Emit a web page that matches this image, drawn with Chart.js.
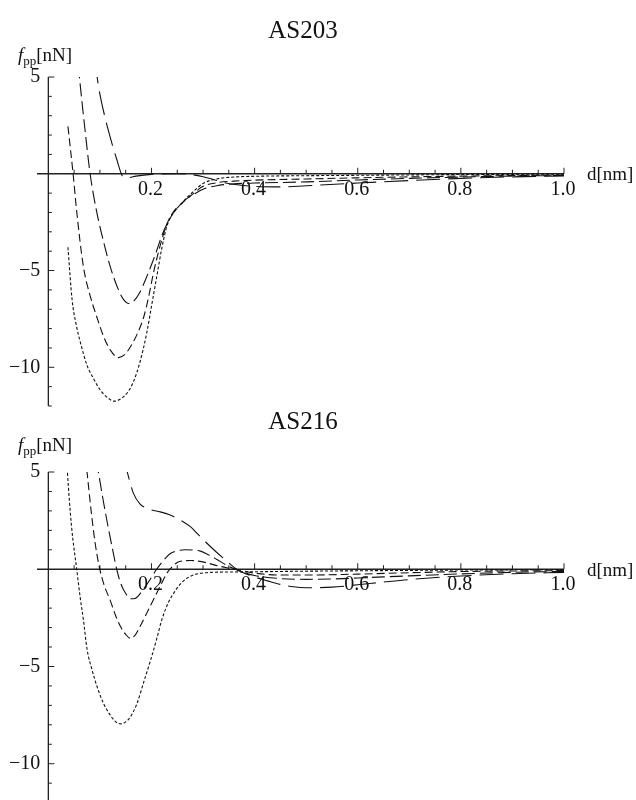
<!DOCTYPE html>
<html>
<head>
<meta charset="utf-8">
<script src="https://cdn.jsdelivr.net/npm/chart.js@4"></script>
<style>
  html, body { margin: 0; padding: 0; background: #fff; overflow: hidden; width: 636px; height: 800px; }
  #wrap { position: relative; width: 636px; height: 800px; }
  canvas { position: absolute; left: 0; }
  .lbl { position: absolute; font-family: "Liberation Serif", "Times New Roman", serif; color: #111; white-space: nowrap; }
  .title { left: 0; width: 606px; text-align: center; font-size: 25px; line-height: 25px; }
  .ylab { left: 18px; font-size: 19px; line-height: 19px; }
  .ylab sub { font-size: 13px; line-height: 0; vertical-align: -4px; }
  .xlab { left: 587px; font-size: 19px; line-height: 19px; }
</style>
</head>
<body>
<div id="wrap">
  <canvas id="c1" width="636" height="420" style="top:0"></canvas>
  <canvas id="c2" width="636" height="420" style="top:400px"></canvas>
  <div class="lbl title" style="top:16.6px">AS203</div>
  <div class="lbl ylab" style="top:44.6px"><i>f</i><sub>pp</sub>[nN]</div>
  <div class="lbl xlab" style="top:163.6px">d[nm]</div>
  <div class="lbl title" style="top:407.6px">AS216</div>
  <div class="lbl ylab" style="top:435.1px"><i>f</i><sub>pp</sub>[nN]</div>
  <div class="lbl xlab" style="top:560.1px">d[nm]</div>
</div>
<script>
// tick labels
const xTickValues = [0.2, 0.4, 0.6, 0.8, 1.0];
const xTickLabels = ["0.2", "0.4", "0.6", "0.8", "1.0"];
const yTickValues = [5, -5, -10];
const yTickLabels = ["5", "\u22125", "\u221210"];

// AS203 - d [nm] and f_pp [nN] per curve
const as203DotD = [0.038, 0.046, 0.054, 0.062, 0.075, 0.088, 0.1, 0.114, 0.128, 0.142, 0.155, 0.165, 0.178, 0.191, 0.201, 0.211, 0.22, 0.23, 0.243, 0.256, 0.268, 0.28, 0.3, 0.33, 0.36, 0.4, 0.5, 0.6, 0.7, 0.8, 0.9, 1.0];
const as203DotF = [-3.8, -6.5, -7.8, -8.7, -9.9, -10.6, -11.15, -11.55, -11.75, -11.6, -11.25, -10.75, -9.7, -8.2, -6.7, -5.2, -3.85, -2.7, -2.0, -1.6, -1.25, -0.95, -0.5, -0.25, -0.17, -0.13, -0.1, -0.08, -0.06, -0.04, -0.03, -0.02];

const as203ShortD = [0.038, 0.048, 0.055, 0.068, 0.081, 0.094, 0.107, 0.12, 0.136, 0.148, 0.159, 0.172, 0.185, 0.195, 0.204, 0.217, 0.23, 0.243, 0.256, 0.268, 0.28, 0.3, 0.33, 0.36, 0.4, 0.5, 0.6, 0.7, 0.8, 0.9, 1.0];
const as203ShortF = [2.45, 0, -1.95, -4.8, -6.3, -7.4, -8.4, -9.1, -9.5, -9.35, -8.95, -8.3, -7.4, -6.3, -5.1, -3.7, -2.6, -1.95, -1.6, -1.3, -1.05, -0.65, -0.45, -0.38, -0.33, -0.27, -0.21, -0.16, -0.12, -0.09, -0.07];

const as203MedD = [0.058, 0.061, 0.071, 0.081, 0.094, 0.107, 0.12, 0.136, 0.146, 0.156, 0.165, 0.177, 0.188, 0.2, 0.211, 0.22, 0.23, 0.243, 0.256, 0.268, 0.28, 0.3, 0.33, 0.36, 0.4, 0.5, 0.6, 0.7, 0.8, 0.9, 1.0];
const as203MedF = [5.6, 4.8, 2.3, 0, -2.0, -3.5, -4.8, -6.0, -6.5, -6.7, -6.6, -6.15, -5.5, -4.7, -3.9, -3.2, -2.6, -2.0, -1.6, -1.3, -1.1, -0.8, -0.6, -0.52, -0.48, -0.42, -0.32, -0.24, -0.17, -0.12, -0.09];

const as203LongD = [0.09, 0.098, 0.11, 0.123, 0.132, 0.146, 0.155, 0.17, 0.2, 0.25, 0.28, 0.3, 0.32, 0.34, 0.37, 0.4, 0.45, 0.5, 0.6, 0.7, 0.8, 0.9, 1.0];
const as203LongF = [5.9, 4.4, 2.9, 1.6, 0.8, -0.18, -0.2, -0.12, -0.03, 0, -0.05, -0.15, -0.3, -0.45, -0.58, -0.65, -0.68, -0.62, -0.48, -0.35, -0.24, -0.16, -0.11];

// AS216
const as216DotD = [0.034, 0.037, 0.045, 0.055, 0.062, 0.068, 0.075, 0.085, 0.094, 0.107, 0.12, 0.131, 0.141, 0.15, 0.159, 0.172, 0.185, 0.198, 0.211, 0.22, 0.233, 0.245, 0.26, 0.278, 0.304, 0.33, 0.36, 0.4, 0.5, 0.6, 0.7, 0.8, 0.9, 1.0];
const as216DotF = [6.5, 5.0, 2.2, 0, -1.5, -2.6, -4.1, -5.2, -6.0, -6.9, -7.5, -7.85, -7.95, -7.85, -7.6, -6.9, -5.8, -4.7, -3.5, -2.6, -1.7, -1.15, -0.65, -0.33, -0.18, -0.15, -0.14, -0.13, -0.1, -0.08, -0.06, -0.04, -0.03, -0.02];

const as216ShortD = [0.072, 0.075, 0.083, 0.091, 0.099, 0.108, 0.12, 0.13, 0.14, 0.15, 0.159, 0.168, 0.178, 0.191, 0.204, 0.217, 0.23, 0.24, 0.25, 0.262, 0.275, 0.29, 0.307, 0.325, 0.346, 0.365, 0.38, 0.4, 0.45, 0.5, 0.6, 0.7, 0.8, 0.9, 1.0];
const as216ShortF = [5.7, 5.0, 3.0, 1.3, 0.1, -0.8, -1.6, -2.35, -2.95, -3.35, -3.55, -3.4, -2.93, -2.25, -1.56, -0.87, -0.2, 0.12, 0.35, 0.43, 0.45, 0.42, 0.33, 0.2, 0.08, 0, -0.1, -0.2, -0.3, -0.3, -0.25, -0.18, -0.12, -0.09, -0.07];

const as216MedD = [0.093, 0.097, 0.106, 0.115, 0.124, 0.1325, 0.14, 0.15, 0.16, 0.168, 0.185, 0.198, 0.21, 0.223, 0.236, 0.25, 0.265, 0.28, 0.295, 0.31, 0.327, 0.345, 0.36, 0.38, 0.4, 0.45, 0.5, 0.55, 0.6, 0.7, 0.8, 0.9, 1.0];
const as216MedF = [5.6, 5.0, 3.6, 2.3, 1.1, 0, -0.7, -1.25, -1.52, -1.5, -1.0, -0.5, 0, 0.45, 0.8, 0.95, 1.0, 0.99, 0.93, 0.75, 0.5, 0.22, 0.02, -0.18, -0.32, -0.48, -0.52, -0.5, -0.45, -0.34, -0.24, -0.16, -0.11];

const as216LongD = [0.145, 0.152, 0.165, 0.178, 0.19, 0.2, 0.217, 0.235, 0.258, 0.275, 0.29, 0.305, 0.323, 0.34, 0.35, 0.365, 0.38, 0.4, 0.425, 0.45, 0.475, 0.5, 0.55, 0.6, 0.65, 0.7, 0.8, 0.9, 1.0];
const as216LongF = [5.8, 5.1, 3.9, 3.35, 3.15, 3.05, 2.95, 2.8, 2.5, 2.2, 1.8, 1.4, 0.95, 0.55, 0.32, 0, -0.2, -0.4, -0.6, -0.78, -0.9, -0.95, -0.92, -0.8, -0.66, -0.53, -0.35, -0.23, -0.16];

const dashes = [[3, 2], [8, 4], [13, 5], [24, 8]];
const FONT = '20px "Liberation Serif", "Times New Roman", serif';

function serie(d, f, dash) {
  return {
    data: d.map((v, i) => ({ x: v, y: f[i] })),
    borderColor: '#111',
    borderWidth: 1.1,
    borderDash: dash,
    pointRadius: 0,
    fill: false,
    cubicInterpolationMode: 'monotone'
  };
}

// ejes cruzando en el origen, ticks hacia adentro
const ejes = {
  id: 'ejes',
  beforeDatasetsDraw(chart) {
    const { ctx, scales: { x, y } } = chart;
    const x0 = x.getPixelForValue(0);
    const y0 = y.getPixelForValue(0);
    ctx.save();
    ctx.strokeStyle = '#222';
    ctx.lineWidth = 1.3;
    ctx.beginPath();
    ctx.moveTo(x.getPixelForValue(x.min), y0);
    ctx.lineTo(x.getPixelForValue(1.0), y0);
    ctx.moveTo(x0, y.getPixelForValue(y.min));
    ctx.lineTo(x0, y.getPixelForValue(5));
    ctx.stroke();

    ctx.lineWidth = 1;
    ctx.beginPath();
    for (let k = 1; k <= 20; k++) {
      const px = x.getPixelForValue(k * 0.05);
      const len = k % 4 === 0 ? 6 : 4;
      ctx.moveTo(px, y0);
      ctx.lineTo(px, y0 - len);
    }
    for (let v = y.min; v <= 5; v++) {
      if (v === 0) continue;
      const py = y.getPixelForValue(v);
      const len = v % 5 === 0 ? 6 : 3.5;
      ctx.moveTo(x0, py);
      ctx.lineTo(x0 + len, py);
    }
    ctx.stroke();

    ctx.fillStyle = '#111';
    ctx.font = FONT;
    ctx.textAlign = 'center';
    ctx.textBaseline = 'alphabetic';
    xTickValues.forEach((v, i) => ctx.fillText(xTickLabels[i], x.getPixelForValue(v) - 1, y0 + 21));
    ctx.textAlign = 'right';
    ctx.textBaseline = 'middle';
    yTickValues.forEach((v, i) => ctx.fillText(yTickLabels[i], x0 - 8, y.getPixelForValue(v)));
    ctx.restore();
  }
};

function crearGrafico(id, series, padTop, padBottom) {
  const ctx = document.getElementById(id).getContext('2d');
  return new Chart(ctx, {
    type: 'scatter',
    data: { datasets: series.map((s, i) => serie(s[0], s[1], dashes[i])) },
    options: {
      responsive: false,
      animation: false,
      events: [],
      showLine: true,
      layout: { autoPadding: false, padding: { left: 37, right: 72, top: padTop, bottom: padBottom } },
      plugins: { legend: { display: false }, tooltip: { enabled: false } },
      scales: {
        x: { type: 'linear', min: -0.022, max: 1.0, display: false },
        y: { type: 'linear', min: -12, max: 5, display: false }
      }
    },
    plugins: [ejes]
  });
}

crearGrafico('c1', [[as203DotD, as203DotF], [as203ShortD, as203ShortF], [as203MedD, as203MedF], [as203LongD, as203LongF]], 77, 14);
crearGrafico('c2', [[as216DotD, as216DotF], [as216ShortD, as216ShortF], [as216MedD, as216MedF], [as216LongD, as216LongF]], 72, 17.4);
</script>
</body>
</html>
